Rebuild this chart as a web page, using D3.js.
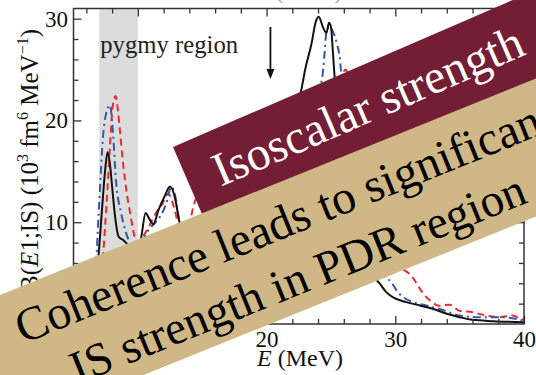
<!DOCTYPE html>
<html>
<head>
<meta charset="utf-8">
<script src="https://cdn.jsdelivr.net/npm/d3@7/dist/d3.min.js"></script>
<style>
  html, body { margin: 0; padding: 0; background: #fff; }
  svg { display: block; }
  text { font-family: "Liberation Serif", "Times New Roman", serif; }
</style>
</head>
<body>
<svg id="chart" width="536" height="375"></svg>
<script>
// Isoscalar dipole strength B(E1;IS) versus excitation energy E (MeV)
const solidE = [5.0, 6.0, 6.6, 6.9, 7.2, 7.45, 7.65, 7.85, 8.0, 8.2, 8.5, 8.9, 9.3, 9.7, 10.0, 10.3, 10.6, 10.9, 11.2, 11.6, 12.1, 12.5, 12.9, 13.2, 13.6, 14.2, 15, 16, 17, 18, 19, 20, 21, 22, 22.7, 23.0, 23.5, 23.8, 24.05, 24.4, 24.65, 24.85, 25.0, 25.16, 25.3, 25.6, 26.0, 26.5, 27.0, 27.6, 28.2, 28.8, 29.3, 29.8, 30.86, 31.9, 32.9, 34, 35, 36, 37.6, 40];
const solidB = [0.0, 0.3, 2.0, 6.0, 11.0, 15.0, 16.9, 15.5, 13.5, 10.9, 8.6, 8.2, 7.6, 6.0, 6.5, 8.8, 10.9, 10.3, 9.8, 11.2, 12.6, 13.5, 12.3, 10.2, 8.5, 7.5, 7.8, 8.5, 9.5, 10.5, 12.0, 13.5, 16.0, 19.5, 23.0, 25.0, 27.6, 29.6, 30.2, 29.1, 28.6, 29.6, 29.2, 26.6, 24.0, 18.0, 13.0, 9.5, 7.5, 6.0, 4.8, 3.96, 3.13, 2.64, 2.15, 1.82, 1.5, 1.0, 0.67, 0.41, 0.28, 0.18];

const dashDotE = [5.0, 6.0, 6.6, 7.0, 7.3, 7.6, 7.83, 8.05, 8.3, 8.7, 9.1, 9.4, 9.8, 10.3, 10.8, 11.3, 11.7, 12.2, 12.6, 12.9, 13.2, 13.6, 14.2, 15, 16, 17, 18, 19, 20, 21, 22, 23, 23.8, 24.3, 24.5, 24.65, 24.9, 25.2, 25.45, 25.7, 25.8, 26.2, 26.7, 27.2, 27.8, 28.4, 29.2, 29.7, 30.1, 30.6, 31.4, 32.4, 33.4, 35, 36.5, 38.1, 39, 40];
const dashDotB = [0.0, 0.3, 3.0, 12.0, 18.5, 21.0, 21.5, 19.1, 14.1, 10.9, 8.9, 7.9, 7.0, 8.0, 9.2, 9.9, 10.5, 11.8, 13.5, 12.6, 10.2, 8.2, 7.2, 7.4, 8.0, 9.0, 10.0, 11.2, 12.5, 14.5, 17.0, 20.0, 22.5, 24.0, 26.5, 28.7, 29.2, 28.6, 27.6, 26.0, 24.6, 19.0, 13.0, 9.0, 6.5, 5.3, 4.6, 4.1, 3.3, 2.64, 2.15, 1.82, 1.5, 0.84, 0.67, 0.67, 0.6, 0.3];

const dashedE = [5.0, 6.0, 6.8, 7.2, 7.45, 7.65, 7.83, 8.05, 8.27, 8.45, 8.6, 8.85, 9.1, 9.4, 9.64, 9.9, 10.2, 10.7, 11.4, 11.9, 12.36, 12.8, 13.1, 13.4, 13.7, 14.0, 14.3, 14.7, 15.2, 16, 17, 18, 19, 20, 21, 22, 23, 24, 25, 25.8, 26.1, 26.4, 27, 27.6, 28.2, 29, 30, 30.8, 31.2, 31.6, 32.1, 32.7, 33.4, 34.2, 35, 36, 37, 38.1, 39.1, 39.8, 40];
const dashedB = [0.0, 0.2, 1.5, 5.0, 9.5, 13.5, 17.4, 21.4, 22.4, 21.0, 19.1, 15.8, 13.2, 10.9, 9.2, 8.0, 8.3, 9.2, 10.9, 11.8, 12.8, 11.5, 9.9, 8.0, 7.6, 9.5, 11.5, 12.5, 11.0, 9.5, 9.8, 10.5, 11.5, 12.5, 14.0, 16.0, 18.0, 20.5, 22.5, 24.0, 25.0, 24.3, 20.0, 14.0, 9.5, 7.0, 5.8, 5.2, 4.8, 4.1, 3.1, 2.3, 1.8, 1.9, 1.3, 1.16, 0.84, 0.67, 0.84, 0.5, 0.45];

const xMajorTicks = [10, 20, 30, 40];
const yMajorTicks = [10, 20, 30];
const pygmyRange = [7, 10];
const arrowEnergy = 20.3;

const serif = "'Liberation Serif', 'Times New Roman', serif";
const svg = d3.select("#chart");
const margin = { left: 73.5, right: 12, top: 8.5, bottom: 51 };
const W = 536, H = 375;
const x = d3.scaleLinear().domain([5, 40]).range([margin.left, W - margin.right]);
const y = d3.scaleLinear().domain([0, 31]).range([H - margin.bottom, margin.top]);

svg.append("rect").attr("width", W).attr("height", H).attr("fill", "#fff");

svg.append("defs").append("clipPath").attr("id", "plot-clip")
  .append("rect")
  .attr("x", x(5)).attr("y", y(31))
  .attr("width", x(40) - x(5)).attr("height", y(0) - y(31));

// sets a text's font size so that its advance width equals the given length
function fitWidth(sel, target) {
  const node = sel.node();
  const base = 40;
  sel.style("font-family", serif).attr("font-size", base);
  const w = node.getComputedTextLength();
  sel.attr("font-size", base * target / w);
  return sel;
}

// shaded pygmy region
svg.append("rect")
  .attr("x", x(pygmyRange[0])).attr("y", y(31))
  .attr("width", x(pygmyRange[1]) - x(pygmyRange[0]))
  .attr("height", y(0) - y(31))
  .attr("fill", "#dcdcdc");

svg.append("text")
  .attr("x", x(pygmyRange[0]) + 1).attr("y", 53)
  .attr("fill", "#222")
  .text("pygmy region")
  .call(fitWidth, 138);

// curves
const curves = svg.append("g").attr("clip-path", "url(#plot-clip)");
const line = d3.line().x(d => x(d[0])).y(d => y(d[1])).curve(d3.curveMonotoneX);
const series = [
  { e: dashedE, b: dashedB, color: "#ec2a33", dash: "7,4.5" },
  { e: dashDotE, b: dashDotB, color: "#3557a8", dash: "8,4,2,4" },
  { e: solidE, b: solidB, color: "#111", dash: null }
];
series.forEach(s => {
  curves.append("path")
    .datum(d3.zip(s.e, s.b))
    .attr("d", line)
    .attr("fill", "none")
    .attr("stroke", s.color)
    .attr("stroke-width", 2)
    .attr("stroke-dasharray", s.dash);
});

// axes with inward ticks on all four sides
const minorX = d3.range(6, 40, 2).filter(v => !xMajorTicks.includes(v));
const minorY = d3.range(2, 31, 2).filter(v => !yMajorTicks.includes(v));
function styleAxis(g) {
  g.select(".domain").remove();
  g.selectAll("line").attr("stroke", "#333").attr("stroke-width", 1.3);
  g.selectAll("text").style("font-family", serif).attr("font-size", 23).attr("fill", "#111");
}
svg.append("g").attr("transform", `translate(0,${y(0)})`)
  .call(d3.axisBottom(x).tickValues(xMajorTicks).tickSize(-8).tickPadding(7).tickFormat(d3.format("d"))).call(styleAxis);
svg.append("g").attr("transform", `translate(0,${y(0)})`)
  .call(d3.axisBottom(x).tickValues(minorX).tickSize(-5).tickFormat("")).call(styleAxis);
svg.append("g").attr("transform", `translate(0,${y(31)})`)
  .call(d3.axisTop(x).tickValues(xMajorTicks).tickSize(-8).tickFormat("")).call(styleAxis);
svg.append("g").attr("transform", `translate(0,${y(31)})`)
  .call(d3.axisTop(x).tickValues(minorX).tickSize(-5).tickFormat("")).call(styleAxis);
svg.append("g").attr("transform", `translate(${x(5)},0)`)
  .call(d3.axisLeft(y).tickValues(yMajorTicks).tickSize(-8).tickPadding(5.5).tickFormat(d3.format("d"))).call(styleAxis);
svg.append("g").attr("transform", `translate(${x(5)},0)`)
  .call(d3.axisLeft(y).tickValues(minorY).tickSize(-5).tickFormat("")).call(styleAxis);
svg.append("g").attr("transform", `translate(${x(40)},0)`)
  .call(d3.axisRight(y).tickValues(yMajorTicks).tickSize(-8).tickFormat("")).call(styleAxis);
svg.append("g").attr("transform", `translate(${x(40)},0)`)
  .call(d3.axisRight(y).tickValues(minorY).tickSize(-5).tickFormat("")).call(styleAxis);

svg.append("rect")
  .attr("x", x(5)).attr("y", y(31))
  .attr("width", x(40) - x(5)).attr("height", y(0) - y(31))
  .attr("fill", "none").attr("stroke", "#333").attr("stroke-width", 1.5);

// axis titles
const xt = svg.append("text")
  .attr("x", 257).attr("y", 366)
  .attr("font-size", 24).attr("fill", "#111").style("font-family", serif);
xt.append("tspan").attr("font-style", "italic").text("E");
xt.append("tspan").text(" (MeV)");

const yt = svg.append("text")
  .attr("transform", "translate(38,29) rotate(-90)")
  .attr("text-anchor", "end").attr("font-size", 25).attr("fill", "#111").style("font-family", serif);
yt.append("tspan").text("B(");
yt.append("tspan").attr("font-style", "italic").text("E");
yt.append("tspan").text("1;IS) (10");
yt.append("tspan").attr("font-size", 16).attr("dy", -10).text("3");
yt.append("tspan").attr("dy", 10).text(" fm");
yt.append("tspan").attr("font-size", 16).attr("dy", -10).text("6");
yt.append("tspan").attr("dy", 10).text(" MeV");
yt.append("tspan").attr("font-size", 16).attr("dy", -10).text("\u22121");
yt.append("tspan").attr("dy", 10).text(")");

// panel heading above the frame
svg.append("text")
  .attr("x", 309).attr("y", -1)
  .attr("text-anchor", "middle").attr("font-size", 21).attr("fill", "#b89a70").style("font-family", serif)
  .text("(SkM*)");

// arrow marking the energy threshold
svg.append("line")
  .attr("x1", x(arrowEnergy)).attr("x2", x(arrowEnergy))
  .attr("y1", 27).attr("y2", 72)
  .attr("stroke", "#111").attr("stroke-width", 1.8);
svg.append("path")
  .attr("d", `M${x(arrowEnergy) - 4},${69} L${x(arrowEnergy) + 4},${69} L${x(arrowEnergy)},${79} Z`)
  .attr("fill", "#111");

// banners
const maroon = svg.append("g").attr("transform", "translate(173,147) rotate(-23.4)");
maroon.append("rect").attr("x", 0).attr("y", 0).attr("width", 620).attr("height", 120).attr("fill", "#741e36");
maroon.append("text")
  .attr("x", 195).attr("y", 55.5)
  .attr("text-anchor", "middle").attr("fill", "#fff")
  .text("Isoscalar strength")
  .call(fitWidth, 334);

const tan = svg.append("g").attr("transform", "translate(0,295) rotate(-22)");
tan.append("rect").attr("x", -200).attr("y", 0).attr("width", 900).attr("height", 128).attr("fill", "#cfb886");
tan.append("text")
  .attr("x", 291).attr("y", 54)
  .attr("text-anchor", "middle").attr("fill", "#000")
  .text("Coherence leads to significant")
  .call(fitWidth, 576);
tan.append("text")
  .attr("x", 282).attr("y", 112)
  .attr("text-anchor", "middle").attr("fill", "#000")
  .text("IS strength in PDR region")
  .call(fitWidth, 487);
</script>
</body>
</html>
